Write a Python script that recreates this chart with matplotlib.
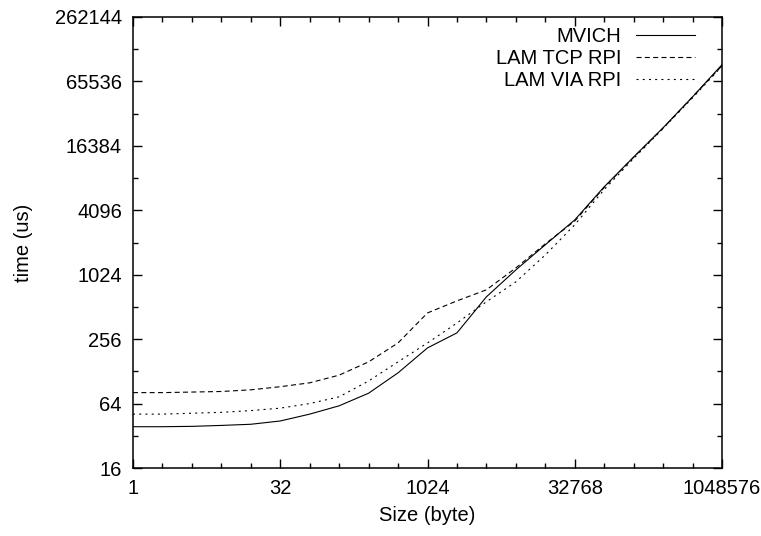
import matplotlib
matplotlib.use("Agg")
import matplotlib.pyplot as plt
from matplotlib.ticker import FixedLocator, FixedFormatter, NullFormatter

plt.rcParams['font.family'] = ['Liberation Sans', 'DejaVu Sans']

# message size in bytes, powers of two from 1 to 1 MiB
sizes = [2 ** k for k in range(21)]

mvich = [38.9, 38.9, 39.2, 40, 41, 44, 51, 61, 80, 124, 212,
         293, 636, 1135, 1950, 3330, 6790, 12900, 24200, 47000, 94000]
lam_tcp = [81, 81, 82, 83, 86, 92, 100, 118, 157, 236, 450,
           583, 740, 1185, 1990, 3250, 6700, 12800, 24000, 47000, 92000]
lam_via = [51, 51, 52, 53, 55, 58, 64, 74, 104, 157, 236,
           362, 572, 878, 1566, 3000, 6400, 12500, 23800, 46000, 91000]

x_ticks = [1, 32, 1024, 32768, 1048576]
y_ticks = [16, 64, 256, 1024, 4096, 16384, 65536, 262144]

fs = 14.5

fig = plt.figure(figsize=(7.61, 5.36), dpi=100)
ax = fig.add_axes([133 / 761, 1 - 468 / 536, 589 / 761, 451 / 536])

ax.plot(sizes, mvich, color='black', lw=0.8, label='MVICH')
ax.plot(sizes, lam_tcp, color='black', lw=0.8, dashes=(4.5, 3), label='LAM TCP RPI')
ax.plot(sizes, lam_via, color='black', lw=0.8, dashes=(1.8, 3.8), label='LAM VIA RPI')

ax.set_xscale('log', base=2)
ax.set_yscale('log', base=2)
ax.set_xlim(1, 1048576)
ax.set_ylim(16, 262144)

ax.xaxis.set_major_locator(FixedLocator(x_ticks))
ax.xaxis.set_major_formatter(FixedFormatter([str(v) for v in x_ticks]))
ax.xaxis.set_minor_locator(FixedLocator(sizes))
ax.xaxis.set_minor_formatter(NullFormatter())
ax.yaxis.set_major_locator(FixedLocator(y_ticks))
ax.yaxis.set_major_formatter(FixedFormatter([str(v) for v in y_ticks]))
ax.yaxis.set_minor_locator(FixedLocator([2 ** k for k in range(4, 19)]))
ax.yaxis.set_minor_formatter(NullFormatter())

ax.tick_params(which='both', direction='in', top=True, right=True, width=1, labelsize=fs)
ax.tick_params(which='major', length=6.5, pad=8)
ax.tick_params(which='minor', length=3.5)
for s in ax.spines.values():
    s.set_linewidth(1.1)

ax.set_xlabel('Size (byte)', fontsize=fs, labelpad=6)
ax.set_ylabel('time (us)', fontsize=fs, labelpad=16)

ax.legend(loc='upper right', bbox_to_anchor=(0.971, 1.0), frameon=False,
          markerfirst=False, fontsize=fs, handlelength=2.9, handletextpad=0.75,
          labelspacing=0.15, borderaxespad=0.3, borderpad=0.2)

fig.savefig('out.png', dpi=100)
